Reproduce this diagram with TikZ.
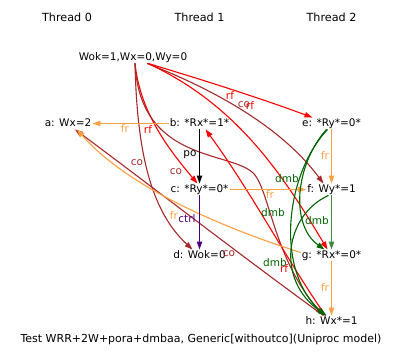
\documentclass[tikz,border=0pt]{standalone}
\usepackage{fontspec}
\setmainfont{DejaVu Sans}
\usetikzlibrary{arrows.meta}
\definecolor{frc}{HTML}{FFA040}
\definecolor{coc}{HTML}{A52A2A}
\definecolor{dmbc}{HTML}{006400}
\definecolor{ctrlc}{HTML}{4B0082}
\definecolor{fgc}{HTML}{3C8C3C}
\begin{document}
\begin{tikzpicture}[x=1pt,y=-1pt,
  every node/.style={font=\fontsize{10.5}{12}\selectfont},
  ev/.style={inner sep=1pt, text height=7.5pt, text depth=2pt, yshift=-1.5pt},
  title/.style={ev, font=\fontsize{11.2}{13}\selectfont},
  lab/.style={inner sep=0pt},
  edge/.style={line width=1.1pt, -{Triangle[length=8pt,width=5.4pt]}},
  rfe/.style={edge, color=red},
  coe/.style={edge, color=coc},
  fre/.style={edge, color=frc},
  poe/.style={edge, color=black},
  ctrle/.style={edge, color=ctrlc},
  dmbe/.style={edge, color=dmbc},
]
\useasboundingbox (0,0) rectangle (403,361);
% thread titles
\node[title] (t0) at (67,17) {Thread 0};
\node[title] (t1) at (199.5,17) {Thread 1};
\node[title] (t2) at (331.5,17) {Thread 2};
% events
\node[ev] (init) at (133,56) {Wok=1,Wx=0,Wy=0};
\node[ev] (a) at (68,122) {a: Wx=2};
\node[ev] (b) at (199.5,122) {b: *Rx*=1*};
\node[ev] (c) at (199.5,188) {c: *Ry*=0*};
\node[ev] (d) at (199.5,254) {d: Wok=0};
\node[ev] (e) at (331.5,122) {e: *Ry*=0*};
\node[ev] (f) at (331.5,188) {f: Wy*=1};
\node[ev] (g) at (331.5,254) {g: *Rx*=0*};
\node[ev] (h) at (331.5,320) {h: Wx*=1};
\node[title, font=\fontsize{11}{13}\selectfont] (cap) at (201,338) {Test WRR+2W+pora+dmbaa, Generic[withoutco](Uniproc model)};
% init edges
\draw[rfe] ([xshift=15pt]init.south) .. controls (200,79) and (260,98) .. ([xshift=-19pt]e.north)
  node[lab] at (230,96) {rf};
\draw[coe] ([xshift=14pt]init.south) .. controls (210,88) and (280,125) .. ([xshift=-8pt]f.north)
  node[lab] at (244,105) {co};
\draw[rfe] ([xshift=15pt]init.south) .. controls (235,104) and (280,170) .. ([xshift=-4pt]g.north)
  node[lab] at (250,106) {rf};
\draw[rfe] ([xshift=2pt]init.south) .. controls (140,110) and (165,145) .. ([xshift=-2pt]c.north)
  node[lab] at (148,130) {rf};
\draw[coe] ([xshift=2pt]init.south) .. controls (137,150) and (150,210) .. ([xshift=-7pt]d.north)
  node[lab] at (137,163) {co};
\draw[coe] ([xshift=2pt]init.south) .. controls (140,165) and (235,150) .. (255,175)
  .. controls (270,195) and (275,260) .. ([xshift=-8pt]h.north)
  node[lab] at (176,172) {co};
% h edges
\draw[rfe] ([xshift=-6pt]h.north) .. controls (290,265) and (250,190) .. ([xshift=6pt]b.south)
  node[lab] at (284,269) {rf};
\draw[coe] ([xshift=-8pt]h.north) .. controls (240,255) and (150,185) .. ([xshift=7pt]a.south)
  node[lab] at (229,254) {co};
% fr edges
\draw[fre] (b.west) -- (a.east) node[lab] at (125,129) {fr};
\draw[fre] (c.east) -- (f.west) node[lab] at (270,195) {fr};
\draw[fre] (e.south) -- (f.north) node[lab] at (325,156) {fr};
\draw[fre] (g.south) -- (h.north) node[lab] at (325,288) {fr};
\draw[fre] ([yshift=3pt]g.west) .. controls (230,230) and (130,190) .. ([xshift=9pt]a.south)
  node[lab] at (174,216) {fr};
% po, ctrl
\draw[poe] (b.south) -- (c.north) node[lab] at (190,155) {po};
\draw[ctrle] (c.south) -- (d.north) node[lab] at (187,219) {ctrl};
% dmb edges
\draw[edge, color=fgc] (f.south) -- (g.north);
\node[lab, text=dmbc] (l3) at (317,221) {dmb};
\draw[dmbe] ([xshift=-5pt]e.south) .. controls (295,165) and (290,225) .. ([xshift=-7pt]g.north)
  node[lab] at (287,179) {dmb};
\draw[dmbe] ([xshift=-4pt]e.south) .. controls (285,175) and (275,270) .. ([xshift=-6pt]h.north)
  node[lab] at (273,213) {dmb};
\draw[dmbe] ([xshift=-3pt]f.south) .. controls (285,215) and (275,280) .. ([xshift=-5pt]h.north)
  node[lab] at (275,263) {dmb};
\end{tikzpicture}
\end{document}
